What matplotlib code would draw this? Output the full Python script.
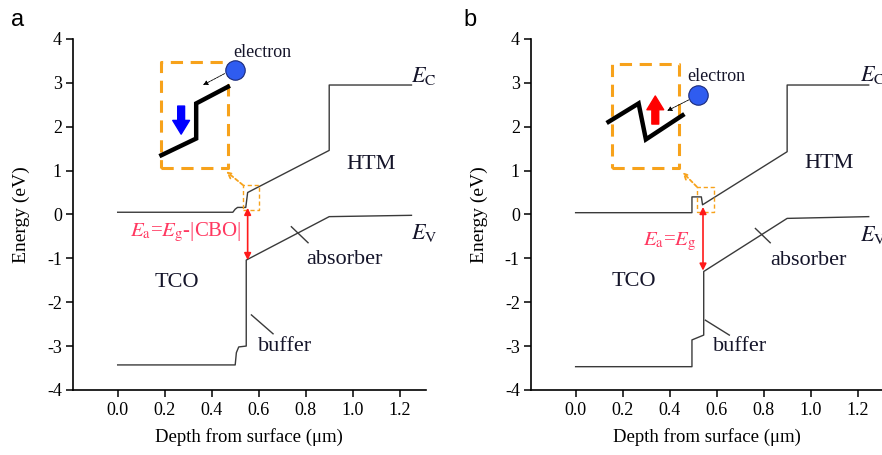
import matplotlib.pyplot as plt

plt.rcParams['font.family'] = ['Liberation Serif', 'DejaVu Serif']
plt.rcParams['mathtext.fontset'] = 'stix'
plt.rcParams['axes.unicode_minus'] = False

# band edges, panel a (cliff) and panel b (spike)
cb_a_x = [0.0, 0.49, 0.50, 0.51, 0.545, 0.553, 0.9, 0.9, 1.25]
cb_a_y = [0.05, 0.05, 0.12, 0.16, 0.16, 0.50, 1.46, 2.95, 2.95]
vb_a_x = [0.0, 0.50, 0.505, 0.515, 0.547, 0.547, 0.9, 1.25]
vb_a_y = [-3.43, -3.43, -3.15, -3.02, -3.0, -1.04, -0.05, -0.02]

cb_b_x = [0.0, 0.495, 0.495, 0.535, 0.54, 0.9, 0.9, 1.247]
cb_b_y = [0.04, 0.04, 0.40, 0.40, 0.22, 1.43, 2.95, 2.95]
vb_b_x = [0.0, 0.495, 0.495, 0.545, 0.545, 0.9, 1.247]
vb_b_y = [-3.47, -3.47, -2.86, -2.75, -1.30, -0.09, -0.05]

# zoomed conduction band drawn in the insets
ins_a_x = [0.186, 0.334, 0.334, 0.469]
ins_a_y = [1.35, 1.73, 2.53, 2.91]
ins_b_x = [0.140, 0.268, 0.299, 0.455]
ins_b_y = [2.11, 2.53, 1.71, 2.26]

xticks = [0.0, 0.2, 0.4, 0.6, 0.8, 1.0, 1.2]
yticks = [-4, -3, -2, -1, 0, 1, 2, 3, 4]

band_col = '#3a3a3a'
orange = '#f7a21b'
red = '#ff1a1a'
pink = '#ff3860'
txt = '#15152a'

panels = [
    dict(pos=[0.0828, 0.143, 0.3997, 0.7714], tag='a', tagx=0.012,
         cb=(cb_a_x, cb_a_y), vb=(vb_a_x, vb_a_y), ins=(ins_a_x, ins_a_y),
         big=(0.186, 0.469, 1.05, 3.48), small=(0.533, 0.601, 0.10, 0.67),
         oarr=((0.533, 0.67), (0.462, 0.98)),
         el=(0.498, 3.29), eltxt=(0.614, 3.68),
         earr=((0.455, 3.21), (0.363, 2.95)),
         big_arr=(0.27, 2.47, 1.83, 'blue'),
         red_arr=(0.553, 0.15, -1.04),
         ea=r'$E_\mathrm{a}$=$E_\mathrm{g}$-|CBO|', eapos=(0.525, -0.42),
         htm=(1.08, 1.13), ec=(1.25, 3.15), ev=(1.25, -0.42),
         tco=(0.25, -1.54), absb=(0.966, -1.02), buf=(0.71, -3.02),
         bufline=((0.569, -2.29), (0.661, -2.72)),
         absline=((0.739, -0.28), (0.81, -0.645))),
    dict(pos=[0.602, 0.143, 0.3997, 0.7714], tag='b', tagx=0.525,
         cb=(cb_b_x, cb_b_y), vb=(vb_b_x, vb_b_y), ins=(ins_b_x, ins_b_y),
         big=(0.155, 0.438, 1.05, 3.44), small=(0.516, 0.587, 0.06, 0.63),
         oarr=((0.516, 0.63), (0.455, 0.96)),
         el=(0.52, 2.72), eltxt=(0.598, 3.14),
         earr=((0.481, 2.61), (0.389, 2.36)),
         big_arr=(0.339, 2.06, 2.70, 'red'),
         red_arr=(0.542, 0.17, -1.28),
         ea=r'$E_\mathrm{a}$=$E_\mathrm{g}$', eapos=(0.515, -0.62),
         htm=(1.08, 1.17), ec=(1.21, 3.18), ev=(1.21, -0.47),
         tco=(0.247, -1.53), absb=(0.99, -1.04), buf=(0.70, -3.01),
         bufline=((0.552, -2.41), (0.654, -2.75)),
         absline=((0.765, -0.32), (0.828, -0.645))),
]

fig = plt.figure(figsize=(8.82, 4.55), dpi=100)

for p in panels:
    ax = fig.add_axes(p['pos'])
    ax.set_xlim(-0.19, 1.31)
    ax.set_ylim(-4, 4)
    for s in ['top', 'right']:
        ax.spines[s].set_visible(False)
    for s in ['left', 'bottom']:
        ax.spines[s].set_linewidth(1.2)
    ax.set_xticks(xticks)
    ax.set_xticklabels(['%.1f' % v for v in xticks])
    ax.set_yticks(yticks)
    ax.tick_params(direction='out', length=5, width=1.1, labelsize=13, pad=3)
    ax.tick_params(axis='x', pad=4)
    ax.set_xlabel('Depth from surface (\u03bcm)', fontsize=13.5, labelpad=6)
    ax.set_ylabel('Energy (eV)', fontsize=14, labelpad=12)

    ax.plot(*p['cb'], color=band_col, lw=1.0)
    ax.plot(*p['vb'], color=band_col, lw=1.0)

    # inset: zoomed band offset
    x0, x1, y0, y1 = p['big']
    ax.plot([x0, x1, x1, x0, x0], [y0, y0, y1, y1, y0], color=orange, lw=2.2,
            ls=(0, (4, 2.5)))
    sx0, sx1, sy0, sy1 = p['small']
    ax.plot([sx0, sx1, sx1, sx0, sx0], [sy0, sy0, sy1, sy1, sy0], color=orange,
            lw=1.0, ls=(0, (3, 2)))
    ax.annotate('', xy=p['oarr'][1], xytext=p['oarr'][0],
                arrowprops=dict(arrowstyle='->', color=orange, lw=1.3,
                                ls=(0, (2, 1.5)), shrinkA=0, shrinkB=0))
    ax.plot(*p['ins'], color='black', lw=3.2, solid_joinstyle='miter')

    ax.annotate('', xy=p['earr'][1], xytext=p['earr'][0],
                arrowprops=dict(arrowstyle='-|>', color='black', lw=0.6,
                                ls=(0, (3, 1)), mutation_scale=7,
                                shrinkA=0, shrinkB=0))
    ax.plot(*p['el'], 'o', ms=14, mfc='#2f5cf0', mec='#1a2a7a', mew=0.8)
    ax.text(*p['eltxt'], 'electron', fontsize=13, ha='center', va='center',
            color=txt)

    bx, by0, by1, bc = p['big_arr']
    ax.annotate('', xy=(bx, by1), xytext=(bx, by0),
                arrowprops=dict(arrowstyle='simple,head_width=1.1,head_length=0.9,tail_width=0.45',
                                color=bc, mutation_scale=11, shrinkA=0, shrinkB=0))

    rx, ry0, ry1 = p['red_arr']
    ax.annotate('', xy=(rx, ry1), xytext=(rx, ry0),
                arrowprops=dict(arrowstyle='<|-|>', color=red, lw=1.2,
                                mutation_scale=10, shrinkA=0, shrinkB=0))
    ax.text(*p['eapos'], p['ea'], fontsize=15, color=pink, ha='right',
            va='center')

    ax.text(*p['htm'], 'HTM', fontsize=16, ha='center', va='center', color=txt)
    ax.text(*p['tco'], 'TCO', fontsize=16, ha='center', va='center', color=txt)
    ax.text(*p['absb'], 'absorber', fontsize=16, ha='center', va='center',
            color=txt)
    ax.text(*p['buf'], 'buffer', fontsize=16, ha='center', va='center',
            color=txt)
    # panel b labels run off the right edge, as in the original figure
    ax.text(*p['ec'], r'$E_\mathrm{C}$', fontsize=16, ha='left', va='center',
            color=txt)
    ax.text(*p['ev'], r'$E_\mathrm{V}$', fontsize=16, ha='left', va='center',
            color=txt)
    (ax_, ay_), (bx_, by_) = p['bufline']
    ax.plot([ax_, bx_], [ay_, by_], color=band_col, lw=1.0)
    (ax_, ay_), (bx_, by_) = p['absline']
    ax.plot([ax_, bx_], [ay_, by_], color=band_col, lw=1.0)

    fig.text(p['tagx'], 0.955, p['tag'], fontsize=17, family='Liberation Sans',
             ha='left', va='center')

fig.savefig('out.png', dpi=100)
